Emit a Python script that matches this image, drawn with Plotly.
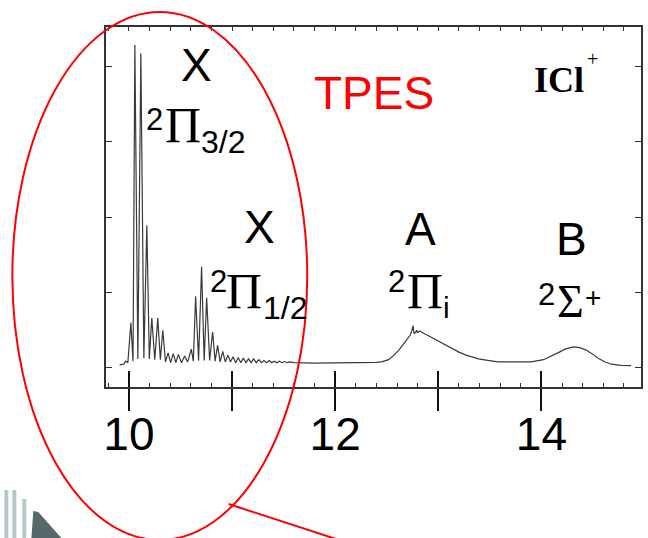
import plotly.graph_objects as go

# ---------------- data ----------------
energy_ev = [
    9.91, 9.95, 9.97, 9.99, 10.019, 10.04, 10.058, 10.087, 10.116, 10.145, 10.174,
    10.198, 10.222, 10.251, 10.280, 10.305, 10.329, 10.355, 10.38, 10.405, 10.43,
    10.455, 10.48, 10.51, 10.54, 10.57, 10.605, 10.625, 10.647, 10.676, 10.705,
    10.73, 10.754, 10.783, 10.812, 10.836, 10.860, 10.885, 10.91, 10.935, 10.96,
    10.985, 11.01, 11.035, 11.06, 11.085, 11.11, 11.135, 11.16, 11.185, 11.21,
    11.235, 11.26, 11.285, 11.31, 11.335, 11.36, 11.385, 11.41, 11.435, 11.46,
    11.485, 11.51, 11.535, 11.56, 11.60, 11.80, 12.00, 12.20, 12.40,
    12.45, 12.52, 12.57, 12.62, 12.67, 12.71, 12.73, 12.745, 12.755, 12.765,
    12.78, 12.79, 12.80, 12.82, 12.84, 12.87, 12.90, 12.94, 12.98, 13.03, 13.08,
    13.13, 13.20, 13.27, 13.33, 13.39, 13.48, 13.58, 13.75, 13.90, 14.02, 14.09,
    14.16, 14.23, 14.31, 14.37, 14.43, 14.49, 14.55, 14.62, 14.68, 14.77, 14.87,
]
intensity = [
    0.04, 0.05, 0.09, 0.07, 0.60, 0.09, 4.28, 0.12, 4.17, 0.13, 1.89,
    0.12, 0.66, 0.11, 0.66, 0.11, 0.50, 0.08, 0.20, 0.07, 0.19,
    0.07, 0.18, 0.07, 0.16, 0.08, 0.25, 0.09, 0.95, 0.10, 1.34,
    0.10, 0.93, 0.10, 0.48, 0.09, 0.30, 0.08, 0.22, 0.08, 0.17,
    0.08, 0.15, 0.07, 0.14, 0.07, 0.13, 0.07, 0.12, 0.07, 0.12,
    0.07, 0.11, 0.07, 0.10, 0.07, 0.10, 0.07, 0.09, 0.07, 0.09,
    0.07, 0.085, 0.07, 0.08, 0.07, 0.065, 0.065, 0.07, 0.075,
    0.08, 0.11, 0.17, 0.24, 0.33, 0.41, 0.44, 0.50, 0.56, 0.46,
    0.47, 0.50, 0.47, 0.49, 0.47, 0.45, 0.43, 0.40, 0.37, 0.33, 0.29,
    0.26, 0.21, 0.17, 0.14, 0.12, 0.10, 0.08, 0.08, 0.08, 0.11, 0.15,
    0.20, 0.25, 0.28, 0.27, 0.24, 0.19, 0.13, 0.08, 0.05, 0.035, 0.03,
]
major_ticks = [10, 11, 12, 13, 14]
major_labels = ["10", "", "12", "", "14"]
y_ticks = [0, 1, 2, 3, 4]

# ---------------- layout helpers ----------------
W, H = 648, 538
L, R, T, B = 106, 643, 27, 387


def pxx(x):
    return (x - L) / (R - L)


def pxy(y):
    return (B - y) / (B - T)


fig = go.Figure()
fig.add_trace(go.Scatter(x=energy_ev, y=intensity, mode="lines",
                         line=dict(color="#3a3a3a", width=1.2),
                         showlegend=False, hoverinfo="skip"))
fig.add_trace(go.Scatter(x=[], y=[], xaxis="x2", showlegend=False))
fig.add_trace(go.Scatter(x=[], y=[], xaxis="x3", showlegend=False))

xr = [9.778, 14.966]
yr = [-0.252, 4.517]
axcol = "#333333"

fig.update_layout(
    width=W, height=H,
    margin=dict(l=L, r=W - R, t=T, b=H - B, pad=0),
    paper_bgcolor="white", plot_bgcolor="white",
    xaxis=dict(range=xr, showline=True, linecolor=axcol, linewidth=1.5, mirror=True,
               ticks="outside", ticklen=22, tickwidth=1.6, tickcolor="#111",
               tickvals=major_ticks, ticktext=major_labels,
               ticklabelstandoff=-16,
               tickfont=dict(family="Liberation Sans", size=46, color="black"),
               showgrid=False, zeroline=False,
               minor=dict(ticks="inside", ticklen=4, tickwidth=1, tickcolor=axcol,
                          tick0=10, dtick=0.2, showgrid=False)),
    xaxis2=dict(range=xr, overlaying="x", side="bottom", anchor="y",
                ticks="inside", ticklen=16, tickwidth=1.6, tickcolor="#111",
                tickvals=major_ticks, showticklabels=False, showline=False,
                showgrid=False, zeroline=False),
    xaxis3=dict(range=xr, overlaying="x", side="top", anchor="y",
                ticks="inside", ticklen=4, tickwidth=1, tickcolor=axcol,
                tick0=10, dtick=0.2, showticklabels=False, showline=False,
                showgrid=False, zeroline=False),
    yaxis=dict(range=yr, showline=True, linecolor=axcol, linewidth=1.5, mirror="ticks",
               ticks="inside", ticklen=6, tickwidth=1, tickcolor=axcol,
               tickvals=y_ticks, showticklabels=False, showgrid=False, zeroline=False),
)

sans = "Liberation Sans"
serif = "Liberation Serif"


def txt(s, x, y, size, family=sans, color="black", bold=False):
    if bold:
        s = "<b>" + s + "</b>"
    fig.add_annotation(text=s, x=pxx(x), y=pxy(y), xref="paper", yref="paper",
                       xanchor="center", yanchor="middle", showarrow=False,
                       font=dict(family=family, size=size, color=color))


# state labels
txt("X", 197, 65, 46)
txt("2", 155, 119, 31)
txt("Π", 183, 125, 50, serif)
txt("3/2", 223, 142, 32)

txt("X", 260, 227, 46)
txt("2", 219, 281, 31)
txt("Π", 245, 291, 50, serif)
txt("1/2", 286, 308, 32)

txt("A", 422, 229, 46)
txt("2", 398, 281, 31)
txt("Π", 426, 291, 50, serif)
txt("i", 448, 307, 30)

txt("B", 573, 239, 46)
txt("2", 548, 294, 31)
txt("Σ", 572, 301, 46, serif)
txt("+", 595, 297, 28)

txt("TPES", 375, 93, 46, sans, "#ff0000")
txt("ICl", 561, 80, 36, serif, bold=True)
txt("+", 594, 59, 20, serif)

# red ellipse and pointer line
fig.add_shape(type="circle", xref="paper", yref="paper",
              x0=pxx(12), x1=pxx(308), y0=pxy(540), y1=pxy(12),
              line=dict(color="#ff0000", width=2), layer="above")
fig.add_shape(type="line", xref="paper", yref="paper",
              x0=pxx(229), y0=pxy(504), x1=pxx(340), y1=pxy(540),
              line=dict(color="#ff0000", width=2), layer="above")

# fragments of a neighbouring picture at the bottom-left corner
for (x0, x1, y0) in [(4, 8, 490), (12, 16, 490), (22, 26, 499)]:
    fig.add_shape(type="rect", xref="paper", yref="paper",
                  x0=pxx(x0), x1=pxx(x1), y0=pxy(540), y1=pxy(y0),
                  line=dict(width=0), fillcolor="#b9c6c9", layer="above")
fig.add_shape(type="path", xref="paper", yref="paper",
              path="M {} {} L {} {} L {} {} L {} {} Z".format(
                  pxx(33), pxy(511), pxx(38), pxy(512), pxx(63), pxy(540), pxx(31), pxy(540)),
              line=dict(width=0), fillcolor="#56686a", layer="above")

fig.write_html("out.html")
